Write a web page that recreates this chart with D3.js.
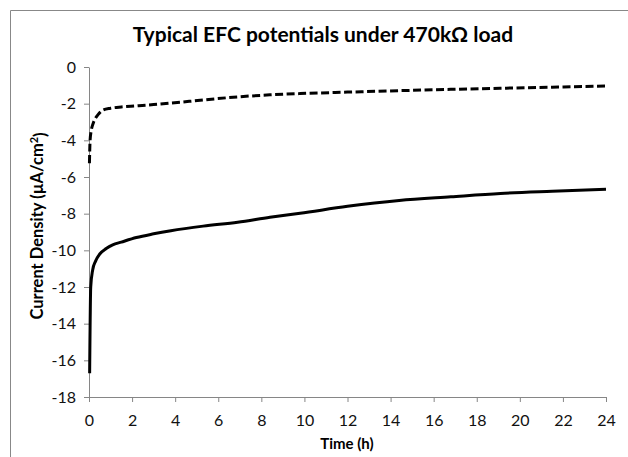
<!DOCTYPE html>
<html>
<head>
<meta charset="utf-8">
<script src="https://cdn.jsdelivr.net/npm/d3@7"></script>
<style>
    body { margin: 0; background: #fff; }
    svg text { font-family: Lato, "Open Sans", sans-serif; }
</style>
</head>
<body>
<svg id="chart" width="628" height="457"></svg>
<script>
// time in hours
var timeDashed = [0.02, 0.05, 0.1, 0.2, 0.3, 0.42, 0.65, 1.0, 1.5, 2.2, 3.0, 3.8, 5.3, 6.9, 8.4, 9.8, 12.0, 14.4, 16.8, 19.1, 21.5, 24];
var valDashed  = [-5.25, -4.0, -3.5, -3.05, -2.8, -2.6, -2.35, -2.25, -2.18, -2.12, -2.05, -1.97, -1.8, -1.63, -1.52, -1.45, -1.37, -1.29, -1.22, -1.16, -1.1, -1.04];

var timeSolid = [0.03, 0.08, 0.17, 0.3, 0.5, 0.8, 1.1, 1.5, 2.2, 3.0, 3.8, 5.3, 6.9, 8.4, 9.8, 12.0, 14.4, 16.8, 19.1, 21.5, 24];
var valSolid  = [-16.7, -12.0, -11.07, -10.6, -10.2, -9.9, -9.7, -9.55, -9.3, -9.1, -8.93, -8.68, -8.47, -8.2, -7.98, -7.6, -7.28, -7.08, -6.9, -6.78, -6.67];

var xTicks = [0, 2, 4, 6, 8, 10, 12, 14, 16, 18, 20, 22, 24];
var yTicks = [0, -2, -4, -6, -8, -10, -12, -14, -16, -18];

var svg = d3.select("svg#chart");
var margin = {top: 67, right: 22, bottom: 60, left: 89};
var width = +svg.attr("width") - margin.left - margin.right;
var height = +svg.attr("height") - margin.top - margin.bottom;

// outer frame (only top/left visible)
svg.append("path")
    .attr("d", "M10.5,460 V10.5 H640")
    .attr("fill", "none")
    .attr("stroke", "#888")
    .attr("stroke-width", 1);

var g = svg.append("g").attr("transform", "translate(" + margin.left + "," + margin.top + ")");

var x = d3.scaleLinear().domain([0, 24]).range([0, width]);
var y = d3.scaleLinear().domain([-18, 0]).range([height, 0]);

var xAxis = g.append("g")
    .attr("class", "axis axis--x")
    .attr("transform", "translate(0," + height + ")")
    .call(d3.axisBottom(x)
        .tickValues(xTicks)
        .tickSize(5)
        .tickSizeOuter(0)
        .tickPadding(10)
        .tickFormat(d3.format("d")));

var yAxis = g.append("g")
    .attr("class", "axis axis--y")
    .call(d3.axisLeft(y)
        .tickValues(yTicks)
        .tickSize(5)
        .tickSizeOuter(0)
        .tickPadding(8)
        .tickFormat(function(d) { return d === 0 ? "0" : "-" + Math.abs(d); }));

g.selectAll(".axis path, .axis line").attr("stroke", "#868686");
g.selectAll(".axis text")
    .style("font-size", "16px")
    .attr("fill", "#111");
xAxis.selectAll("text").attr("dy", "0.85em");

var line = d3.line()
    .x(function(d) { return x(d[0]); })
    .y(function(d) { return y(d[1]); })
    .curve(d3.curveMonotoneX);

g.append("path")
    .datum(d3.zip(timeSolid, valSolid))
    .attr("fill", "none")
    .attr("stroke", "#000")
    .attr("stroke-width", 3)
    .attr("d", line);

g.append("path")
    .datum(d3.zip(timeDashed, valDashed))
    .attr("fill", "none")
    .attr("stroke", "#000")
    .attr("stroke-width", 3)
    .attr("stroke-dasharray", "8,3.5")
    .attr("d", line);

svg.append("text")
    .attr("x", 323)
    .attr("y", 42)
    .style("text-anchor", "middle")
    .style("font-size", "21px")
    .style("font-weight", "bold")
    .text("Typical EFC potentials under 470k\u03A9 load");

svg.append("text")
    .attr("x", 347)
    .attr("y", 449)
    .style("text-anchor", "middle")
    .style("font-size", "15px")
    .style("font-weight", "bold")
    .text("Time (h)");

var yl = svg.append("text")
    .attr("transform", "translate(43,226) rotate(-90)")
    .style("text-anchor", "middle")
    .style("font-size", "16.5px")
    .style("font-weight", "bold");
yl.append("tspan").text("Current Density (\u00B5A/cm");
yl.append("tspan").attr("dy", "-0.5em").style("font-size", "11px").text("2");
yl.append("tspan").attr("dy", "0.5em").text(")");
</script>
</body>
</html>
